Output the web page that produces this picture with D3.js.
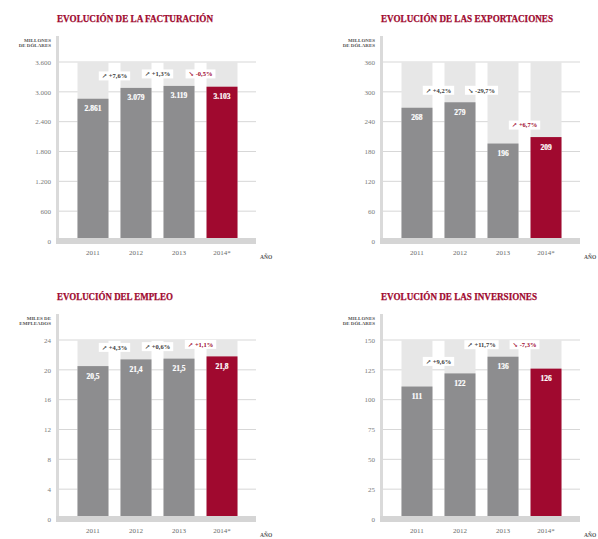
<!DOCTYPE html>
<html>
<head>
<meta charset="utf-8">
<script src="https://cdn.jsdelivr.net/npm/d3@7"></script>
<style>
  body { margin: 0; background: #fff; }
  svg { display: block; font-family: 'Liberation Serif', 'DejaVu Serif', serif; }
</style>
</head>
<body>
<script>
// data
const years = ['2011', '2012', '2013', '2014*'];

const facturacion = [2861, 3079, 3119, 3103];
const facturacionChanges = ['+7,6%', '+1,3%', '-0,5%'];
const facturacionTicks = [0, 600, 1200, 1800, 2400, 3000, 3600];

const exportaciones = [268, 279, 196, 209];
const exportacionesChanges = ['+4,2%', '-29,7%', '+6,7%'];
const exportacionesTicks = [0, 60, 120, 180, 240, 300, 360];

const empleo = [20.5, 21.4, 21.5, 21.8];
const empleoChanges = ['+4,3%', '+0,6%', '+1,1%'];
const empleoTicks = [0, 4, 8, 12, 16, 20, 24];

const inversiones = [111, 122, 136, 126];
const inversionesChanges = ['+9,6%', '+11,7%', '-7,3%'];
const inversionesTicks = [0, 25, 50, 75, 100, 125, 150];

const app = (function () {
  'use strict';

  const red = '#a0092f';
  const grey = '#8d8d8f';
  const es = d3.formatLocale({ decimal: ',', thousands: '.', grouping: [3], currency: ['', ''] });

  function init () {
    const svg = d3.select('body').append('svg')
      .attr('width', 598)
      .attr('height', 539);

    const panels = [
      { title: 'EVOLUCIÓN DE LA FACTURACIÓN', unit: ['MILLONES', 'DE DÓLARES'], values: facturacion, changes: facturacionChanges, ticks: facturacionTicks, fmt: ',', ox: 0, oy: 0, titleW: 156 },
      { title: 'EVOLUCIÓN DE LAS EXPORTACIONES', unit: ['MILLONES', 'DE DÓLARES'], values: exportaciones, changes: exportacionesChanges, ticks: exportacionesTicks, fmt: ',', ox: 324, oy: 0, titleW: 172 },
      { title: 'EVOLUCIÓN DEL EMPLEO', unit: ['MILES DE', 'EMPLEADOS'], values: empleo, changes: empleoChanges, ticks: empleoTicks, fmt: ',.1f', ox: 0, oy: 278, titleW: 116 },
      { title: 'EVOLUCIÓN DE LAS INVERSIONES', unit: ['MILLONES', 'DE DÓLARES'], values: inversiones, changes: inversionesChanges, ticks: inversionesTicks, fmt: ',', ox: 324, oy: 278, titleW: 156 }
    ];

    panels.forEach(function (p) {
      drawPanel(svg.append('g').attr('transform', 'translate(' + p.ox + ',' + p.oy + ')'), p);
    });
  }

  function drawPanel (g, p) {
    const axisX = 58;
    const gridR = 256;
    const y0 = 241;
    const yTop = 62;

    const x = d3.scaleBand()
      .domain(years)
      .range([77.5, 237.5])
      .paddingInner(0.28)
      .paddingOuter(0);

    const y = d3.scaleLinear()
      .domain([0, d3.max(p.ticks)])
      .range([y0, yTop]);

    const fmt = es.format(p.fmt);

    // title
    g.append('text')
      .attr('x', 57)
      .attr('y', 21.5)
      .attr('textLength', p.titleW)
      .attr('lengthAdjust', 'spacingAndGlyphs')
      .style('font-size', '9.5px')
      .style('font-weight', 'bold')
      .style('fill', red)
      .style('stroke', red)
      .style('stroke-width', 0.25)
      .text(p.title);

    // unit label
    g.selectAll('.unit')
      .data(p.unit)
      .enter()
      .append('text')
      .attr('class', 'unit')
      .attr('x', 51)
      .attr('y', function (d, i) { return 41.5 + i * 5.5; })
      .style('text-anchor', 'end')
      .style('font-size', '5px')
      .style('font-weight', 'bold')
      .style('fill', '#555')
      .text(function (d) { return d; });

    // gridlines
    g.selectAll('.grid')
      .data(p.ticks)
      .enter()
      .append('line')
      .attr('class', 'grid')
      .attr('x1', axisX)
      .attr('x2', gridR)
      .attr('y1', function (d) { return y(d); })
      .attr('y2', function (d) { return y(d); })
      .style('stroke', '#d7d7d7')
      .style('stroke-width', 1);

    // vertical axis band
    g.append('rect')
      .attr('x', axisX - 2)
      .attr('y', 36)
      .attr('width', 3)
      .attr('height', y0 + 3 - 36)
      .style('fill', '#dadada');

    // tick labels
    const yAxis = d3.axisLeft(y)
      .tickValues(p.ticks)
      .tickSize(0)
      .tickPadding(0)
      .tickFormat(es.format(','));
    const ya = g.append('g')
      .attr('transform', 'translate(51,0)')
      .call(yAxis);
    ya.select('.domain').remove();
    ya.selectAll('text')
      .style('font-family', "'Liberation Serif', serif")
      .style('font-size', '7px')
      .style('fill', '#7a7a7a');

    // background columns
    g.selectAll('.bg')
      .data(years)
      .enter()
      .append('rect')
      .attr('class', 'bg')
      .attr('x', function (d) { return x(d); })
      .attr('y', y(d3.max(p.ticks)))
      .attr('width', x.bandwidth())
      .attr('height', y0 - y(d3.max(p.ticks)))
      .style('fill', '#e7e7e7');

    // bars
    g.selectAll('.bar')
      .data(p.values)
      .enter()
      .append('rect')
      .attr('class', 'bar')
      .attr('x', function (d, i) { return x(years[i]); })
      .attr('y', function (d) { return y(d); })
      .attr('width', x.bandwidth())
      .attr('height', function (d) { return y0 - y(d); })
      .style('fill', function (d, i) { return i === years.length - 1 ? red : grey; });

    // baseline
    g.append('rect')
      .attr('x', axisX - 2)
      .attr('y', y0 - 3)
      .attr('width', gridR - axisX + 2)
      .attr('height', 6)
      .style('fill', '#d5d5d5');

    // value labels
    g.selectAll('.val')
      .data(p.values)
      .enter()
      .append('text')
      .attr('class', 'val')
      .attr('x', function (d, i) { return x(years[i]) + x.bandwidth() / 2; })
      .attr('y', function (d) { return y(d) + 12.5; })
      .style('text-anchor', 'middle')
      .style('font-size', '7.5px')
      .style('font-weight', 'bold')
      .style('fill', '#fff')
      .style('stroke', '#fff')
      .style('stroke-width', 0.2)
      .text(function (d) { return fmt(d); });

    // change labels between bars
    const ch = g.selectAll('.chg')
      .data(p.changes)
      .enter()
      .append('g')
      .attr('class', 'chg')
      .attr('transform', function (d, i) {
        const cx = (x(years[i]) + x.bandwidth() + x(years[i + 1])) / 2;
        const cy = y(Math.max(p.values[i], p.values[i + 1])) - 12;
        return 'translate(' + cx + ',' + cy + ')';
      });
    ch.append('rect').style('fill', '#fff');
    ch.append('text')
      .attr('y', 2.3)
      .style('text-anchor', 'middle')
      .style('font-size', '6.5px')
      .style('font-weight', 'bold')
      .style('fill', function (d, i) { return i === p.changes.length - 1 ? red : '#3a3a3a'; })
      .text(function (d) { return (d[0] === '-' ? '\u2198 ' : '\u2197 ') + d; });
    ch.each(function () {
      const t = d3.select(this).select('text').node();
      const w = t.getComputedTextLength() + 6;
      d3.select(this).select('rect')
        .attr('x', -w / 2)
        .attr('y', -4.5)
        .attr('width', w)
        .attr('height', 9);
    });

    // x labels
    const xAxis = d3.axisBottom(x).tickSize(0).tickPadding(0);
    const xa = g.append('g')
      .attr('transform', 'translate(0,' + 250 + ')')
      .call(xAxis);
    xa.select('.domain').remove();
    xa.selectAll('text')
      .style('font-family', "'Liberation Serif', serif")
      .style('font-size', '7px')
      .style('fill', '#6a6a6a');

    g.append('text')
      .attr('x', 260)
      .attr('y', 259)
      .style('font-size', '5.5px')
      .style('font-weight', 'bold')
      .style('fill', '#555')
      .text('AÑO');
  }

  return {
    init: init
  };
}());

window.addEventListener('load', app.init);
</script>
</body>
</html>
